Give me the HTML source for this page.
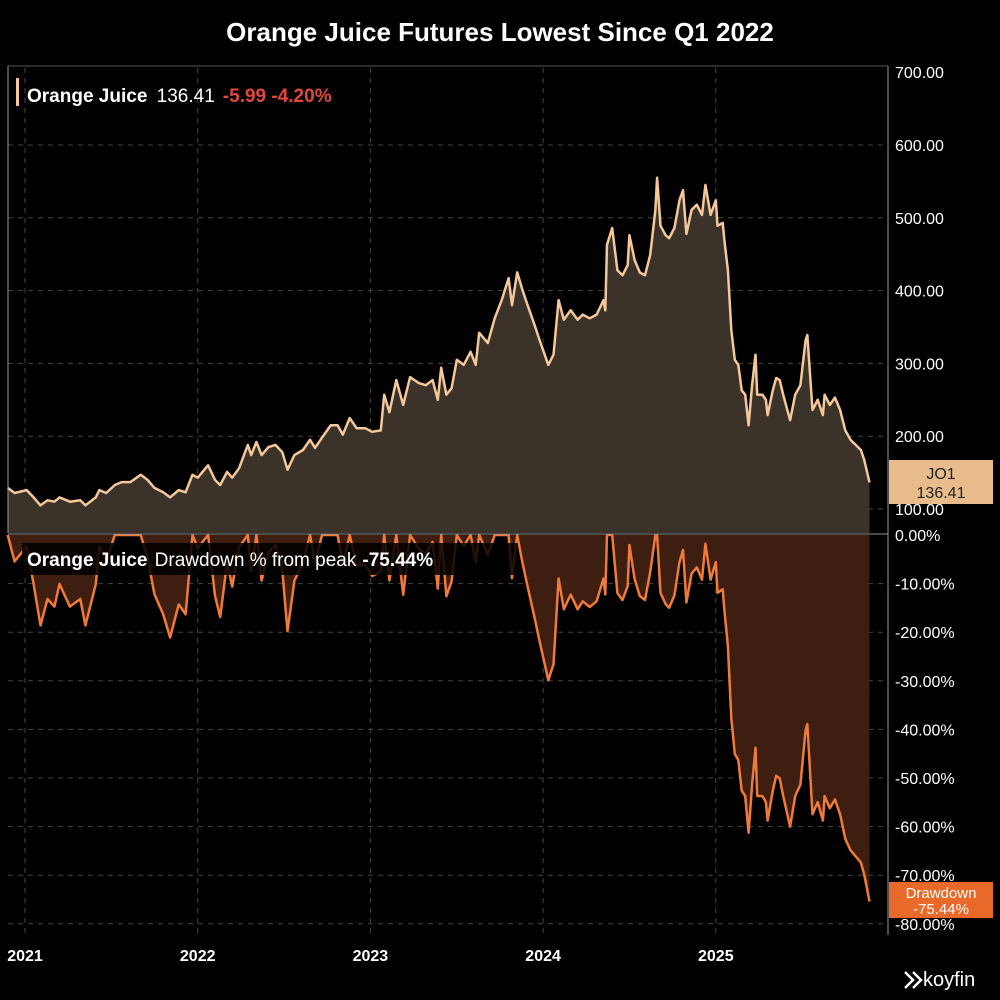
<!DOCTYPE html>
<html><head><meta charset="utf-8"><style>
body{margin:0;background:#000;width:1000px;height:1000px;overflow:hidden;font-family:"Liberation Sans",sans-serif}
svg{display:block}
</style></head><body>
<svg id="chart" width="1000" height="1000" xmlns="http://www.w3.org/2000/svg">
<rect x="0" y="0" width="1000" height="1000" fill="#000"/>
<text x="500" y="41" text-anchor="middle" fill="#fff" font-size="26" font-weight="bold">Orange Juice Futures Lowest Since Q1 2022</text>
<g id="grid"></g>
<g id="marks"></g>
<g id="axes"></g>
<rect x="16" y="78" width="3" height="28" fill="#f5c89a"/>
<text x="27" y="102" font-size="19" font-weight="bold" fill="#fff">Orange Juice <tspan font-weight="normal" dx="4">136.41</tspan><tspan fill="#e0483a" dx="8">-5.99 -4.20%</tspan></text>
<rect x="22" y="543" width="496" height="32" fill="#000" opacity="0.85"/>
<text x="27" y="566" font-size="19" font-weight="bold" fill="#fff">Orange Juice <tspan font-weight="normal" dx="2">Drawdown % from peak</tspan><tspan dx="6">-75.44%</tspan></text>
<rect x="889" y="460" width="104" height="44" fill="#e8bb8c"/>
<text x="941" y="479" text-anchor="middle" font-size="16" fill="#222">JO1</text>
<text x="941" y="498" text-anchor="middle" font-size="16" fill="#222">136.41</text>
<rect x="889" y="882" width="104" height="36" fill="#e8692a"/>
<text x="941" y="898" text-anchor="middle" font-size="15" fill="#fff">Drawdown</text>
<text x="941" y="914" text-anchor="middle" font-size="15" fill="#fff">-75.44%</text>
<g>
<path d="M905 972 l8 8 l-8 8 M913 972 l8 8 l-8 8" stroke="#fff" stroke-width="2.5" fill="none"/>
<text x="923" y="986" font-size="20" fill="#fff">koyfin</text>
</g>
</svg>
<script>
const dates=[2020.90,2020.94,2021.01,2021.05,2021.09,2021.13,2021.17,2021.20,2021.26,2021.32,2021.35,2021.41,2021.43,2021.47,2021.52,2021.56,2021.61,2021.67,2021.71,2021.75,2021.80,2021.84,2021.89,2021.93,2021.97,2022.00,2022.06,2022.10,2022.13,2022.17,2022.20,2022.24,2022.29,2022.31,2022.34,2022.37,2022.41,2022.45,2022.49,2022.52,2022.56,2022.61,2022.65,2022.68,2022.72,2022.77,2022.81,2022.84,2022.88,2022.92,2022.97,2023.01,2023.06,2023.08,2023.11,2023.15,2023.19,2023.23,2023.28,2023.32,2023.36,2023.39,2023.41,2023.44,2023.47,2023.50,2023.54,2023.58,2023.61,2023.63,2023.68,2023.72,2023.76,2023.80,2023.82,2023.85,2023.88,2023.91,2023.95,2023.98,2024.03,2024.06,2024.09,2024.12,2024.16,2024.20,2024.23,2024.27,2024.31,2024.35,2024.36,2024.37,2024.40,2024.43,2024.46,2024.49,2024.50,2024.53,2024.56,2024.59,2024.62,2024.65,2024.66,2024.68,2024.71,2024.73,2024.76,2024.79,2024.81,2024.83,2024.86,2024.89,2024.92,2024.94,2024.97,2025.00,2025.01,2025.04,2025.05,2025.07,2025.09,2025.11,2025.13,2025.15,2025.17,2025.19,2025.21,2025.23,2025.24,2025.27,2025.29,2025.30,2025.33,2025.35,2025.37,2025.39,2025.43,2025.46,2025.49,2025.52,2025.53,2025.56,2025.59,2025.62,2025.63,2025.66,2025.69,2025.72,2025.75,2025.78,2025.81,2025.84,2025.86,2025.89];
const prices=[129,122,126,116,105,112,110,116,110,112,105,116,126,122,133,137,137,147,140,129,123,116,126,123,147,143,160,140,133,151,143,156,188,174,192,174,185,188,178,154,174,181,195,184,198,215,215,202,225,211,211,206,208,257,233,277,243,281,273,270,277,250,294,257,266,305,298,316,298,342,328,362,387,417,380,425,401,380,353,332,298,312,387,360,373,360,367,362,367,387,373,463,486,428,421,435,476,442,425,421,449,511,555,489,476,472,486,524,538,478,511,518,504,545,504,524,489,493,469,428,346,305,298,263,257,215,270,312,257,257,250,229,263,280,277,257,222,257,270,332,339,236,250,229,257,243,253,236,208,195,188,181,167,136.41];
const priceTicks=[700,600,500,400,300,200,100];
const ddTicks=[0,-10,-20,-30,-40,-50,-60,-70,-80];
const yearTicks=[2021,2022,2023,2024,2025];

const NS='http://www.w3.org/2000/svg';
const X=t=>25+(t-2021)*172.7;
const YP=v=>509-(v-100)*0.728;
const YD=d=>535-d*4.86;
function mk(tag,attrs,parent){const e=document.createElementNS(NS,tag);for(const k in attrs)e.setAttribute(k,attrs[k]);document.getElementById(parent).appendChild(e);return e;}

// drawdown derived from prices
const drawdowns=[];let peak=-Infinity;
for(const p of prices){peak=Math.max(peak,p);drawdowns.push((p/peak-1)*100);}

for(const v of priceTicks){if(v===700)continue;
 const g=mk('line',{x1:8,x2:888,y1:YP(v),y2:YP(v),stroke:'#444','stroke-dasharray':'5,5'},'grid');
 
 }
for(const v of ddTicks){if(v===0)continue;
 const g=mk('line',{x1:8,x2:888,y1:YD(v),y2:YD(v),stroke:'#444','stroke-dasharray':'5,5'},'grid');
 
 }
for(const t of yearTicks){
 const g=mk('line',{x1:X(t),x2:X(t),y1:68,y2:935,stroke:'#444','stroke-dasharray':'5,5'},'grid');
 
 }

let pl=dates.map((t,i)=>X(t).toFixed(1)+','+YP(prices[i]).toFixed(1)).join(' ');
const pa=mk('polygon',{points:X(dates[0])+',533 '+pl+' '+X(dates[dates.length-1])+',533',fill:'#3b3229'},'marks');


const pline=mk('polyline',{points:pl,fill:'none',stroke:'#f5c89a','stroke-width':2.5,'stroke-linejoin':'round'},'marks');



let dl=dates.map((t,i)=>X(t).toFixed(1)+','+YD(drawdowns[i]).toFixed(1)).join(' ');
const da=mk('polygon',{points:X(dates[0])+',535 '+dl+' '+X(dates[dates.length-1])+',535',fill:'#3e1e10'},'marks');


const dline=mk('polyline',{points:dl,fill:'none',stroke:'#f07a3a','stroke-width':2.5,'stroke-linejoin':'round'},'marks');



const a1=mk('line',{x1:888,x2:888,y1:66,y2:935,stroke:'#999','stroke-width':1},'axes');


const a2=mk('line',{x1:8,x2:888,y1:534,y2:534,stroke:'#999','stroke-width':1},'axes');


const a3=mk('line',{x1:8,x2:8,y1:66,y2:533,stroke:'#999','stroke-width':1},'axes');


const a4=mk('line',{x1:8,x2:888,y1:66,y2:66,stroke:'#555','stroke-width':1},'axes');


for(const v of priceTicks){
 const t=mk('text',{x:895,y:YP(v)+6,fill:'#fff','font-size':16},'axes');
 t.textContent=v.toFixed(2);
 
 }
for(const v of ddTicks){
 const t=mk('text',{x:895,y:YD(v)+6,fill:'#fff','font-size':16},'axes');
 t.textContent=v.toFixed(2)+'%';
 
 }
for(const y of yearTicks){
 const t=mk('text',{x:X(y),y:961,fill:'#fff','font-size':16,'font-weight':'bold','text-anchor':'middle'},'axes');
 t.textContent=y;
 
 }
</script>
</body></html>
